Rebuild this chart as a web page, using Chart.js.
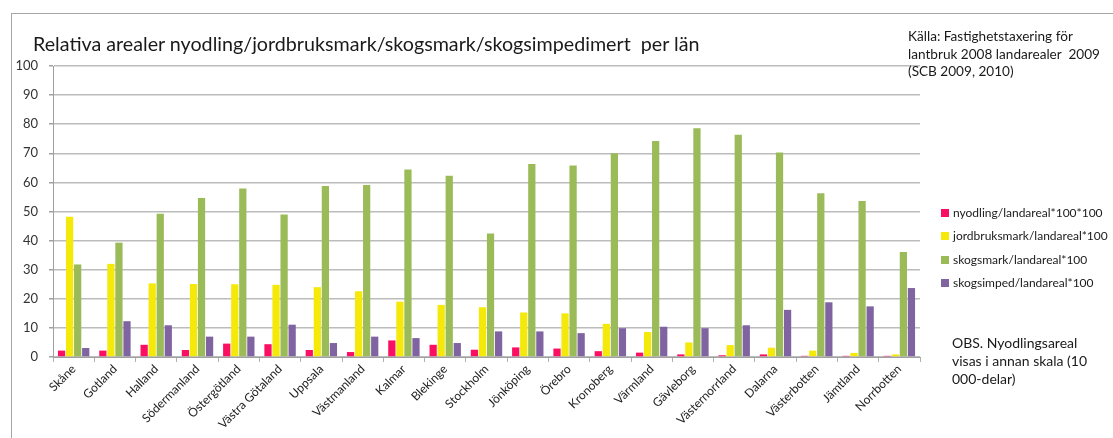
<!DOCTYPE html>
<html lang="sv">
<head>
<meta charset="utf-8">
<title>Relativa arealer per län</title>
<script src="https://cdn.jsdelivr.net/npm/chart.js@4.4.0/dist/chart.umd.min.js"></script>
<style>
  html, body { margin: 0; padding: 0; background: #fff; }
  body { width: 1113px; height: 438px; position: relative; overflow: hidden;
         font-family: Lato, "Open Sans", sans-serif; color: #1a1a1a; }
  #frame { position: absolute; left: 11px; top: 13px; width: 1200px; height: 500px;
           border-left: 1px solid #a6a6a6; border-top: 1px solid #a6a6a6; }
  #wrap { position: absolute; left: 0; top: 0; width: 1113px; height: 438px; }
  #title { position: absolute; left: 33px; top: 32px; font-size: 19.7px; white-space: nowrap; }
  #source { position: absolute; left: 908px; top: 28px; font-size: 13.6px; line-height: 17.5px; white-space: nowrap; }
  #legend { position: absolute; left: 941px; top: 204px; font-size: 12px; }
  #legend div { height: 23.3px; line-height: 18px; white-space: nowrap; }
  #legend span.box { display: inline-block; width: 8px; height: 8px; margin-right: 4px; vertical-align: 0px; }
  #note { position: absolute; left: 952px; top: 334px; font-size: 14px; line-height: 18px; }
</style>
</head>
<body>
<div id="frame"></div>
<div id="wrap"><canvas id="lanChart" width="1113" height="438"></canvas></div>
<div id="title">Relativa arealer nyodling/jordbruksmark/skogsmark/skogsimpedimert&nbsp; per län</div>
<div id="source">Källa: Fastighetstaxering för<br>lantbruk 2008 landarealer&nbsp; 2009<br>(SCB 2009, 2010)</div>
<div id="legend"></div>
<div id="note">OBS. Nyodlingsareal<br>visas i annan skala (10<br>000-delar)</div>
<script>
// län (kategorier)
const lan = ['Skåne', 'Gotland', 'Halland', 'Södermanland', 'Östergötland', 'Västra Götaland',
  'Uppsala', 'Västmanland', 'Kalmar', 'Blekinge', 'Stockholm', 'Jönköping', 'Örebro',
  'Kronoberg', 'Värmland', 'Gävleborg', 'Västernorrland', 'Dalarna', 'Västerbotten',
  'Jämtland', 'Norrbotten'];

// serier
const nyodling = [2.2, 2.2, 4.2, 2.4, 4.6, 4.4, 2.4, 1.7, 5.7, 4.2, 2.5, 3.3, 2.9, 2.0, 1.5, 0.9, 0.6, 0.9, 0.4, 0.4, 0.4];
const jordbruksmark = [48.2, 32.0, 25.3, 25.1, 25.0, 24.8, 24.0, 22.6, 19.0, 17.9, 17.1, 15.3, 15.0, 11.4, 8.6, 5.0, 4.1, 3.2, 2.2, 1.4, 0.9];
const skogsmark = [31.8, 39.3, 49.2, 54.6, 57.9, 49.0, 58.8, 59.1, 64.4, 62.3, 42.4, 66.3, 65.8, 70.0, 74.2, 78.6, 76.4, 70.3, 56.3, 53.6, 36.1];
const skogsimped = [3.1, 12.3, 10.9, 7.0, 7.0, 11.1, 4.8, 7.0, 6.5, 4.8, 8.8, 8.8, 8.2, 9.9, 10.4, 9.9, 10.9, 16.2, 18.8, 17.4, 23.7];

const seriesLabels = ['nyodling/landareal*100*100', 'jordbruksmark/landareal*100',
  'skogsmark/landareal*100', 'skogsimped/landareal*100'];
const seriesColors = ['#fa0f62', '#f5e90a', '#9bbb59', '#8064a2'];

const yMin = 0;
const yMax = 100;
const yStep = 5;

const allData = [nyodling, jordbruksmark, skogsmark, skogsimped];

const ctx = document.getElementById('lanChart');
const chart = new Chart(ctx, {
  type: 'bar',
  data: {
    labels: lan,
    datasets: allData.map((d, i) => ({
      label: seriesLabels[i],
      data: d,
      backgroundColor: seriesColors[i],
      borderWidth: 0,
      barPercentage: 0.9,
      categoryPercentage: 0.78,
    })),
  },
  options: {
    responsive: false,
    animation: false,
    devicePixelRatio: 1,
    layout: { padding: { left: 0, top: 66, right: 193, bottom: 0 } },
    plugins: { legend: { display: false }, tooltip: { enabled: false } },
    scales: {
      x: {
        afterFit: (s) => { s.height = 81; },
        grid: { drawOnChartArea: false, tickLength: 5, color: '#b0b0b0', offset: true },
        border: { color: '#a0a0a0' },
        ticks: {
          minRotation: 45, maxRotation: 45, autoSkip: false, padding: 0,
          color: '#222', font: { family: 'Lato', size: 12 },
        },
      },
      y: {
        min: yMin, max: yMax,
        afterFit: (s) => { s.width = 53; },
        border: { color: '#a0a0a0' },
        grid: {
          tickLength: 4,
          color: (c) => (c.tick && c.tick.value % 10 === 0 ? '#bcbcbc' : '#e2e2e2'),
          tickColor: (c) => (c.tick && c.tick.value % 10 === 0 ? '#a0a0a0' : 'rgba(0,0,0,0)'),
          lineWidth: 1.5,
        },
        ticks: {
          stepSize: yStep,
          padding: 11,
          color: '#333',
          font: { family: 'Lato', size: 13 },
          callback: (v) => (v % 10 === 0 ? v : ''),
        },
      },
    },
  },
});

// legend som html
const legendEl = document.getElementById('legend');
chart.data.datasets.forEach((ds) => {
  const row = document.createElement('div');
  const box = document.createElement('span');
  box.className = 'box';
  box.style.background = ds.backgroundColor;
  row.appendChild(box);
  row.appendChild(document.createTextNode(ds.label));
  legendEl.appendChild(row);
});
</script>
</body>
</html>
